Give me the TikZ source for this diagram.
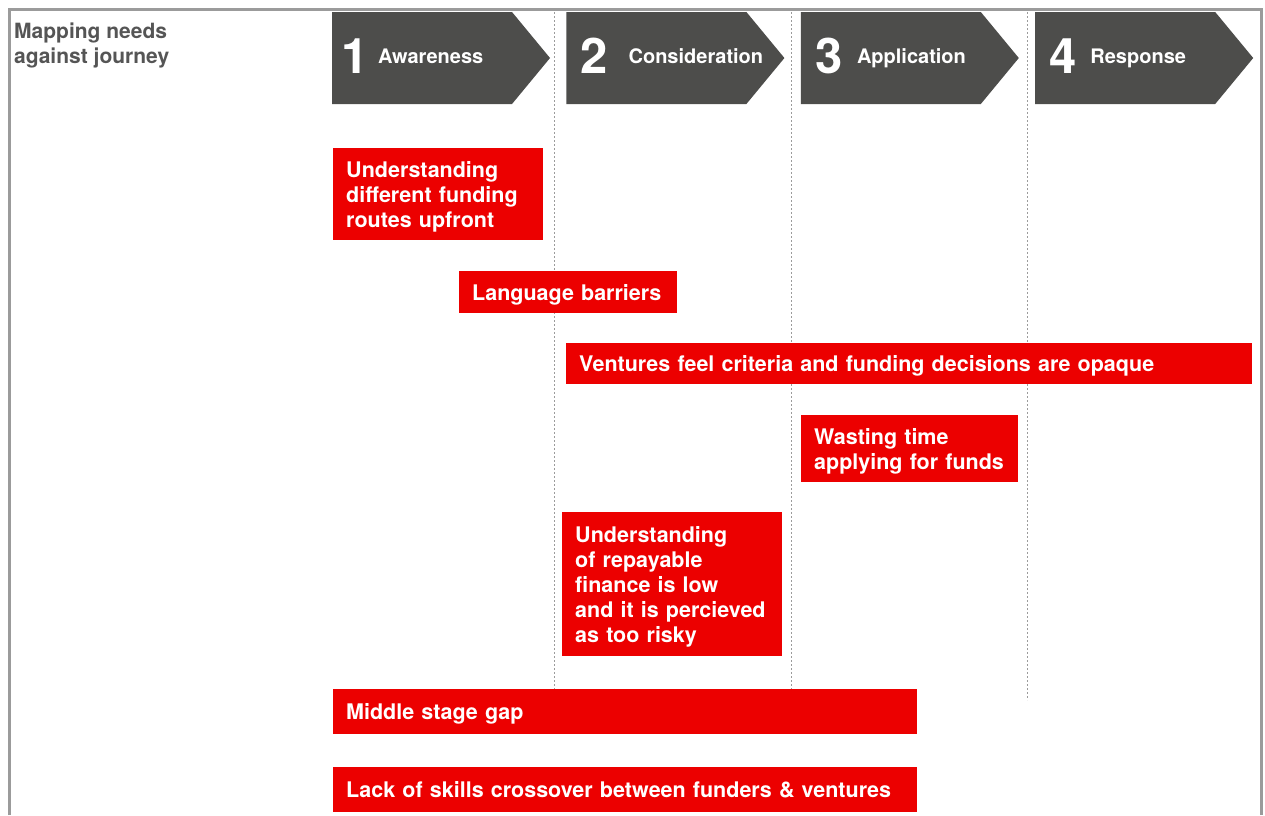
\documentclass[tikz,border=0pt]{standalone}
\usepackage{fontspec}
\setmainfont{TeX Gyre Heros}
\definecolor{needred}{RGB}{236,0,0}
\definecolor{stagegray}{RGB}{77,77,75}
\definecolor{framegray}{RGB}{155,155,155}
\definecolor{titlegray}{RGB}{85,85,85}
\tikzset{
  % the value is the depth of all lines below the first one
  need/.style={fill=needred,text=white,anchor=north west,align=left,text depth=#1,
    inner xsep=13pt,inner ysep=0pt,font=\bfseries\fontsize{21.5}{25}\selectfont},
  need/.default=0pt,
  stagenum/.style={text=white,anchor=base west,inner sep=0pt,
    font=\bfseries\fontsize{49}{49}\selectfont},
  stagelabel/.style={text=white,anchor=base west,inner sep=0pt,
    font=\bfseries\fontsize{20}{24}\selectfont},
  guide/.style={framegray,line width=1pt,dash pattern=on 2pt off 2pt},
}
\begin{document}
\begin{tikzpicture}[x=1pt,y=-1pt]
    \useasboundingbox (0,0) rectangle (1265,815);
    \draw[framegray,line width=3pt] (9.5,815) -- (9.5,9) -- (1261,9) -- (1261,815);
    \node[anchor=north west,inner sep=0pt,align=left,text=titlegray,
          font=\bfseries\fontsize{21}{25}\selectfont] (title) at (14,23)
          {Mapping needs\\against journey};
    % stage separators
    \draw[guide] (554,12) -- (554,689);
    \draw[guide] (791,12) -- (791,689);
    \draw[guide] (1027,12) -- (1027,700);
    % stage arrows
    \foreach \num/\name/\nx/\lx [count=\i] in {1/Awareness/9/46,2/Consideration/14/62,
                                               3/Application/14/56,4/Response/14/55}{
      \pgfmathsetmacro\xs{332+234.4*(\i-1)}
      \fill[stagegray] (\xs,12) -- ++(180,0) -- ++(38,46) -- ++(-38,46) -- ++(-180,0) -- cycle;
      \node[stagenum] (num\i) at (\xs+\nx,73) {\num};
      \node[stagelabel] (stage\i) at (\xs+\lx,63) {\name};
    }
    % needs
    \node[need=50pt,minimum width=210pt,minimum height=92pt,text width=184pt] (routes) at (333,148)
          {Understanding\\different funding\\routes upfront};
    \node[need,minimum width=218pt,minimum height=42pt,text width=192pt] (language) at (459,271)
          {Language barriers};
    \node[need,minimum width=686pt,minimum height=41pt,text width=660pt] (opaque) at (566,343)
          {Ventures feel criteria and funding decisions are opaque};
    \node[need=25pt,minimum width=217pt,minimum height=67pt,text width=191pt] (wasting) at (801,415)
          {Wasting time\\applying for funds};
    \node[need=100pt,minimum width=220pt,minimum height=144pt,text width=194pt] (repayable) at (562,512)
          {Understanding\\of repayable\\finance is low\\and it is percieved\\as too risky};
    \node[need,minimum width=584pt,minimum height=45pt,text width=558pt] (gap) at (333,689)
          {Middle stage gap};
    \node[need,minimum width=584pt,minimum height=45pt,text width=558pt] (skills) at (333,767)
          {Lack of skills crossover between funders \& ventures};
\end{tikzpicture}
\end{document}
